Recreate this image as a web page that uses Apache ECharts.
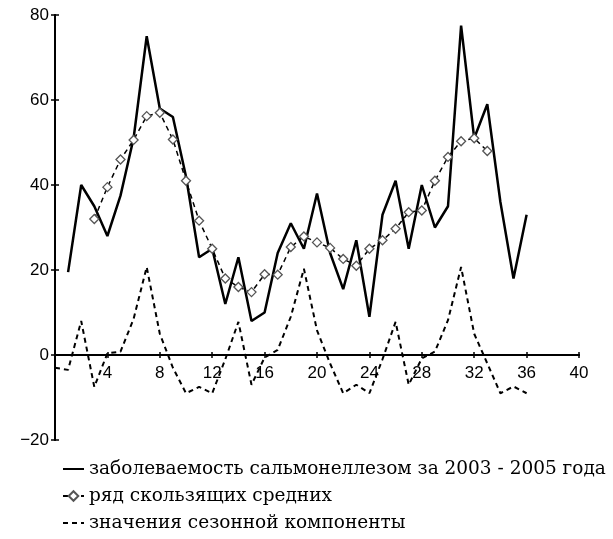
<!DOCTYPE html>
<html>
<head>
<meta charset="utf-8">
<script src="https://cdn.jsdelivr.net/npm/echarts@6/dist/echarts.min.js"></script>
<style>
  html, body { margin: 0; padding: 0; background: #fff; }
  #chart { width: 613px; height: 539px; }
</style>
</head>
<body>
<div id="chart"></div>
<script>
  // месяцы 2003-2005 (1..36)
  var months = [1, 2, 3, 4, 5, 6, 7, 8, 9, 10, 11, 12, 13, 14, 15, 16, 17, 18,
    19, 20, 21, 22, 23, 24, 25, 26, 27, 28, 29, 30, 31, 32, 33, 34, 35, 36]
  // заболеваемость сальмонеллезом
  var incidence = [19.5, 40, 35, 28, 37.5, 51, 75, 58, 56, 42, 23, 25, 12, 23, 8, 10, 24, 31,
    25, 38, 24, 15.5, 27, 9, 33, 41, 25, 40, 30, 35, 77.5, 51, 59, 36, 18, 33]
  // ряд скользящих средних (месяцы 3..33)
  var maMonths = [3, 4, 5, 6, 7, 8, 9, 10, 11, 12, 13, 14, 15, 16, 17, 18, 19, 20,
    21, 22, 23, 24, 25, 26, 27, 28, 29, 30, 31, 32, 33]
  var movingAvg = [32, 39.5, 46, 50.6, 56.2, 57, 50.7, 41, 31.6, 25, 18, 16, 14.8, 19, 18.9, 25.4, 27.9, 26.5,
    25.2, 22.6, 21, 25, 27, 29.7, 33.6, 34, 41, 46.6, 50.3, 51, 48]
  // сезонная компонента (месяцы 0..36)
  var seasMonths = [0].concat(months)
  var seasonal = [-3, -3.5, 8, -7.5, 0.4, 0.8, 8.5, 20.7, 5, -3, -9, -7.5, -9, -1, 7.8, -7, -0.6, 1.2, 9,
    20.3, 5.8, -2, -9, -7, -9, -1, 7.8, -7, -0.8, 0.8, 8.2, 20.7, 5, -2, -9, -7.4, -9]

  var names = [
    'заболеваемость сальмонеллезом за 2003 - 2005 года',
    'ряд скользящих средних',
    'значения сезонной компоненты'
  ]

  function pairs (xs, ys) {
    return xs.map(function (x, i) { return [x, ys[i]] })
  }

  var labelFont = {
    color: '#000',
    fontSize: 17,
    fontFamily: 'Liberation Sans'
  }
  var noMarker = { color: 'rgba(0,0,0,0)', borderWidth: 0, opacity: 0 }
  // ось X проходит через 0: 20 единиц * 4.25 px = 85 px над низом сетки
  var zeroOffset = -85

  var option = {
    animation: false,
    backgroundColor: '#fff',
    grid: { left: 55, right: 34, top: 15, bottom: 99, containLabel: false },
    legend: {
      orient: 'vertical',
      left: 62,
      top: 459,
      padding: 0,
      itemGap: 7,
      itemWidth: 21,
      itemHeight: 12,
      textStyle: { color: '#000', fontSize: 18.5, lineHeight: 20, fontFamily: 'DejaVu Serif' },
      data: [
        { name: names[0], itemStyle: noMarker },
        { name: names[1] },
        { name: names[2], itemStyle: noMarker }
      ]
    },
    xAxis: [
      {
        type: 'value',
        min: 0,
        max: 40,
        interval: 4,
        offset: zeroOffset,
        axisLine: { onZero: false, lineStyle: { color: '#000', width: 2 } },
        axisTick: { length: 3, lineStyle: { color: '#000', width: 1.5 } },
        axisLabel: Object.assign({
          margin: 10,
          formatter: function (v) { return v === 0 ? '' : v }
        }, labelFont),
        splitLine: { show: false }
      },
      {
        type: 'value',
        min: 0,
        max: 40,
        interval: 4,
        position: 'bottom',
        offset: zeroOffset,
        axisLine: { onZero: false, lineStyle: { color: '#000', width: 2 } },
        axisTick: { inside: true, length: 3, lineStyle: { color: '#000', width: 1.5 } },
        axisLabel: { show: false },
        splitLine: { show: false }
      }
    ],
    yAxis: [
      {
        type: 'value',
        min: -20,
        max: 80,
        interval: 20,
        axisLine: { show: true, onZero: false, lineStyle: { color: '#000', width: 2 } },
        axisTick: { show: true, length: 4, lineStyle: { color: '#000', width: 1.5 } },
        axisLabel: Object.assign({
          margin: 6,
          formatter: function (v) { return v < 0 ? '\u2212' + (-v) : v }
        }, labelFont),
        splitLine: { show: false }
      },
      {
        type: 'value',
        min: -20,
        max: 80,
        interval: 20,
        position: 'left',
        axisLine: { show: true, onZero: false, lineStyle: { color: '#000', width: 2 } },
        axisTick: { show: true, inside: true, length: 4, lineStyle: { color: '#000', width: 1.5 } },
        axisLabel: { show: false },
        splitLine: { show: false }
      }
    ],
    series: [
      {
        name: names[0],
        type: 'line',
        symbol: 'none',
        data: pairs(months, incidence),
        lineStyle: { color: '#000', width: 2.5 },
        itemStyle: { color: '#000' }
      },
      {
        name: names[1],
        type: 'line',
        symbol: 'diamond',
        symbolSize: 9,
        data: pairs(maMonths, movingAvg),
        lineStyle: { color: '#000', width: 1.5, type: [5, 4] },
        itemStyle: { color: '#fff', borderColor: '#555', borderWidth: 1.3 }
      },
      {
        name: names[2],
        type: 'line',
        symbol: 'none',
        data: pairs(seasMonths, seasonal),
        lineStyle: { color: '#000', width: 2, type: [5, 4] },
        itemStyle: { color: '#000' }
      }
    ]
  }

  var chart = echarts.init(document.getElementById('chart'))
  chart.setOption(option)
</script>
</body>
</html>
